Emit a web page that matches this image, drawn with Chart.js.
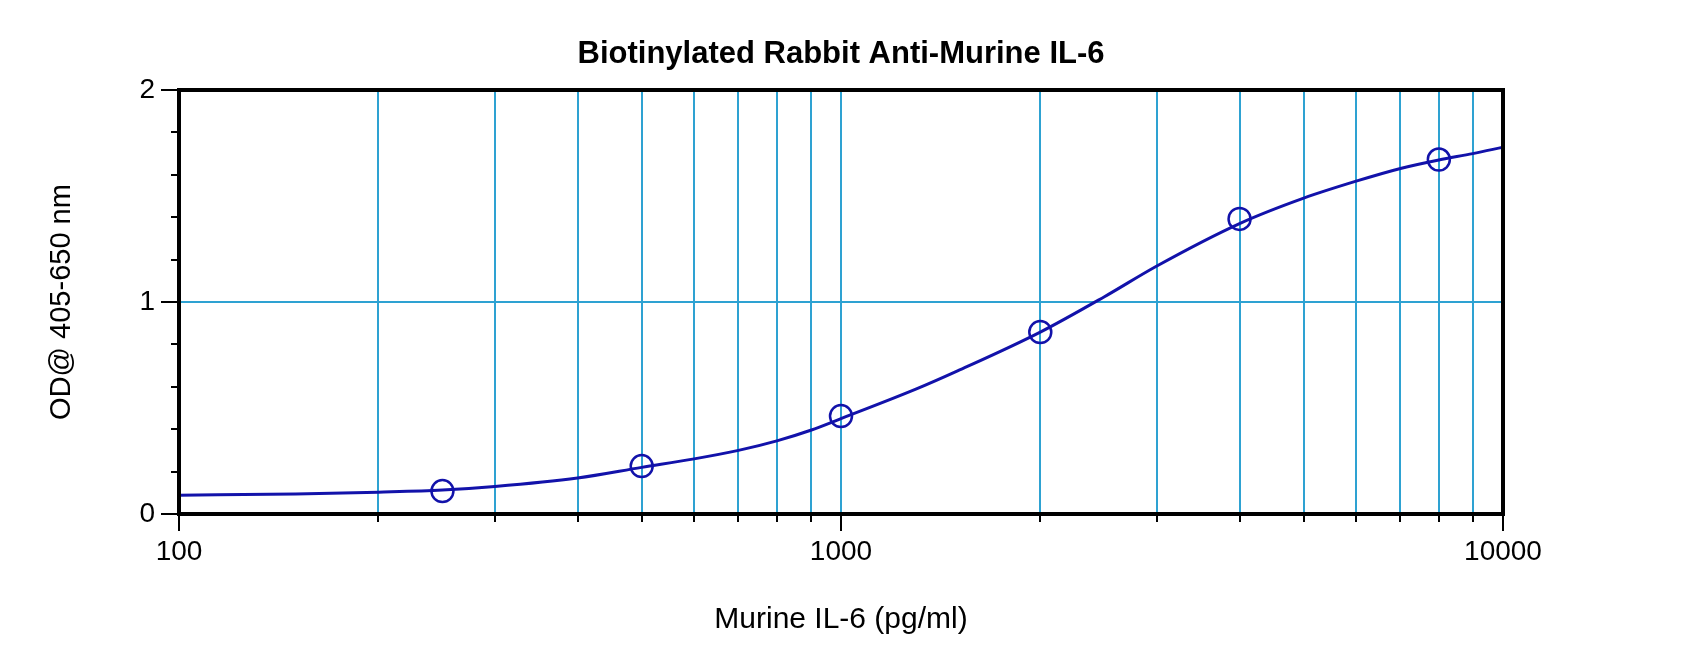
<!DOCTYPE html>
<html><head><meta charset="utf-8">
<script src="https://cdn.jsdelivr.net/npm/chart.js@4.4.1/dist/chart.umd.min.js"></script>
<style>html,body{margin:0;padding:0;background:#fff}</style>
</head><body>
<canvas id="c" width="1700" height="665"></canvas>
<script>
const chartTitle = 'Biotinylated Rabbit Anti-Murine IL-6';
const xAxisTitle = 'Murine IL-6 (pg/ml)';
const yAxisTitle = 'OD@ 405-650 nm';

// standards (circles)
const standardConc = [250, 500, 1000, 2000, 4000, 8000];
const standardOD   = [0.108, 0.226, 0.462, 0.858, 1.392, 1.672];

// fitted curve
const curveConc = [100, 150, 200, 250, 300, 400, 500, 600, 700, 800, 900, 1000, 1300, 1500, 2000, 2500, 3000, 4000, 5000, 6000, 7000, 8000, 9000, 10000];
const curveOD   = [0.089, 0.094, 0.103, 0.113, 0.130, 0.170, 0.220, 0.260, 0.300, 0.345, 0.395, 0.450, 0.590, 0.675, 0.858, 1.025, 1.170, 1.370, 1.490, 1.570, 1.630, 1.670, 1.700, 1.730];

// axis ticks
const xTickValues = [100,200,300,400,500,600,700,800,900,1000,2000,3000,4000,5000,6000,7000,8000,9000,10000];
const xMajorTicks = [100, 1000, 10000];
const yTickValues = [0,0.2,0.4,0.6,0.8,1,1.2,1.4,1.6,1.8,2];
const yMajorTicks = [0, 1, 2];

const GRID = '#2ea2d2';
const BLUE = '#1212aa';
const FONT = "'Liberation Sans', Arial, sans-serif";

const framePlugin = {
  id: 'frame',
  afterDraw(chart) {
    const ctx = chart.ctx, a = chart.chartArea, xs = chart.scales.x, ys = chart.scales.y;
    ctx.save();
    ctx.strokeStyle = '#000';
    ctx.lineWidth = 2;
    ctx.beginPath();
    xTickValues.forEach(v => {
      const px = Math.round(xs.getPixelForValue(v));
      const len = xMajorTicks.includes(v) ? 17 : 8;
      ctx.moveTo(px, a.bottom); ctx.lineTo(px, a.bottom + len);
    });
    yTickValues.forEach(v => {
      const py = Math.round(ys.getPixelForValue(v));
      const len = yMajorTicks.includes(v) ? 18 : 8;
      ctx.moveTo(a.left, py); ctx.lineTo(a.left - len, py);
    });
    ctx.stroke();
    ctx.lineWidth = 4;
    ctx.strokeRect(a.left, a.top, a.right - a.left, a.bottom - a.top);
    ctx.restore();
  }
};

new Chart(document.getElementById('c'), {
  type: 'scatter',
  data: {
    datasets: [
      {
        label: 'fit',
        data: curveConc.map((x, i) => ({x, y: curveOD[i]})),
        showLine: true,
        borderColor: BLUE,
        borderWidth: 3,
        pointRadius: 0,
        cubicInterpolationMode: 'monotone',
        order: 2
      },
      {
        label: 'standards',
        data: standardConc.map((x, i) => ({x, y: standardOD[i]})),
        showLine: false,
        pointStyle: 'circle',
        pointRadius: 11,
        pointBorderWidth: 2.5,
        pointBorderColor: BLUE,
        pointBackgroundColor: 'rgba(0,0,0,0)',
        order: 1
      }
    ]
  },
  options: {
    responsive: false,
    animation: false,
    devicePixelRatio: 1,
    layout: { padding: { top: 0, left: 0, right: 197, bottom: 0 } },
    plugins: {
      legend: { display: false },
      tooltip: { enabled: false },
      title: {
        display: true,
        fullSize: false,
        text: chartTitle,
        color: '#000',
        font: { family: FONT, size: 31, weight: 'bold', lineHeight: 1.2 },
        padding: { top: 35.4, bottom: 17.4 }
      }
    },
    scales: {
      x: {
        type: 'logarithmic',
        min: 100, max: 10000,
        afterBuildTicks: s => { s.ticks = xTickValues.map(v => ({value: v})); },
        afterFit: s => { s.height = 151; },
        ticks: {
          autoSkip: false, maxRotation: 0, minRotation: 0,
          padding: 21, color: '#000',
          font: { family: FONT, size: 28 },
          callback: v => xMajorTicks.includes(v) ? String(v) : ''
        },
        grid: {
          drawTicks: false,
          lineWidth: 2,
          color: c => (c.tick && (c.tick.value === 100 || c.tick.value === 10000)) ? 'rgba(0,0,0,0)' : GRID
        },
        border: { display: false },
        title: {
          display: true, text: xAxisTitle, color: '#000',
          font: { family: FONT, size: 30, lineHeight: 1.2 },
          padding: { top: 0, bottom: 27 }
        }
      },
      y: {
        type: 'linear',
        min: 0, max: 2,
        afterBuildTicks: s => { s.ticks = yTickValues.map(v => ({value: v})); },
        afterFit: s => { s.width = 179; },
        ticks: {
          autoSkip: false, padding: 24, color: '#000',
          font: { family: FONT, size: 28 },
          callback: v => yMajorTicks.includes(v) ? String(v) : ''
        },
        grid: {
          drawTicks: false,
          lineWidth: 2,
          color: c => (c.tick && c.tick.value === 1) ? GRID : 'rgba(0,0,0,0)'
        },
        border: { display: false },
        title: {
          display: true, text: yAxisTitle, color: '#000',
          font: { family: FONT, size: 29, lineHeight: 1.2 },
          padding: { top: 44.6, bottom: 0 }
        }
      }
    }
  },
  plugins: [framePlugin]
});
</script>
</body></html>
